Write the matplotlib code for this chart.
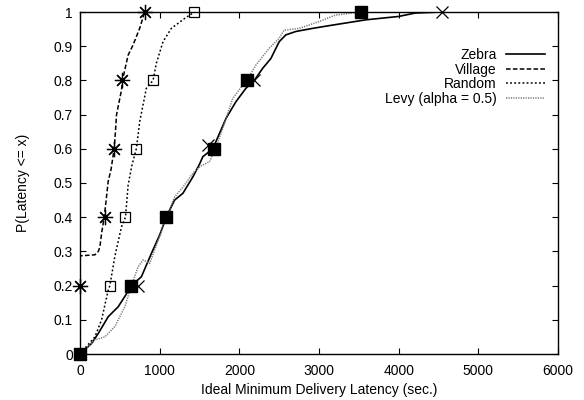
import matplotlib
matplotlib.use("Agg")
from matplotlib import pyplot as plt

plt.rcParams["font.family"] = ["Liberation Sans", "DejaVu Sans"]
plt.rcParams["font.size"] = 10

# CDF curves (x in sec., y = P(latency <= x))

zebra_x = [0, 146, 229, 354, 479, 562, 646, 771, 896, 1000, 1083, 1187, 1292, 1417,
           1500, 1542, 1667, 1833, 1958, 2083, 2187, 2292, 2396, 2500, 2583, 2708,
           2917, 3125, 3583, 4000, 4208, 4542, 5000]
zebra_y = [0, 0.031, 0.06, 0.109, 0.138, 0.168, 0.2, 0.226, 0.294, 0.348, 0.4, 0.45,
           0.47, 0.518, 0.555, 0.577, 0.6, 0.689, 0.738, 0.777, 0.8, 0.835, 0.864,
           0.913, 0.933, 0.943, 0.952, 0.96, 0.977, 0.987, 0.997, 1.0, 1.0]

village_x = [0, 0, 187, 230, 250, 271, 304, 333, 354, 390, 429, 445, 458, 521, 533,
             604, 667, 750, 812]
village_y = [0, 0.287, 0.29, 0.30, 0.314, 0.353, 0.40, 0.46, 0.505, 0.54, 0.601, 0.65,
             0.699, 0.772, 0.80, 0.874, 0.904, 0.953, 1.0]

random_x = [0, 62, 187, 271, 354, 375, 437, 521, 571, 604, 650, 708, 750, 833, 917,
            958, 1042, 1146, 1312, 1437]
random_y = [0, 0.017, 0.05, 0.1, 0.187, 0.2, 0.285, 0.372, 0.4, 0.494, 0.55, 0.601,
            0.68, 0.777, 0.8, 0.85, 0.913, 0.952, 0.981, 1.0]

levy_x = [0, 187, 312, 437, 562, 646, 729, 792, 875, 930, 1010, 1083, 1190, 1300,
          1420, 1520, 1625, 1700, 1792, 1917, 2042, 2096, 2208, 2375, 2500, 2562,
          2750, 3000, 3208, 3521]
levy_y = [0, 0.041, 0.05, 0.08, 0.138, 0.2, 0.255, 0.275, 0.265, 0.30, 0.35, 0.4,
          0.46, 0.49, 0.53, 0.55, 0.562, 0.6, 0.66, 0.747, 0.786, 0.8, 0.845, 0.894,
          0.923, 0.947, 0.952, 0.972, 0.991, 1.0]

# marker points (every 0.2 of probability)
zebra_mx = [0, 729, 1083, 1604, 2187, 4542]
zebra_my = [0, 0.2, 0.4, 0.611, 0.8, 1.0]
village_mx = [0, 312, 429, 533, 812]
village_my = [0.2, 0.4, 0.6, 0.8, 1.0]
random_mx = [0, 375, 571, 708, 917, 1437]
random_my = [0, 0.2, 0.4, 0.6, 0.8, 1.0]
levy_mx = [0, 646, 1083, 1687, 2096, 3521]
levy_my = [0, 0.2, 0.4, 0.6, 0.8, 1.0]

fig = plt.figure(figsize=(5.84, 4.0), dpi=100)
ax = fig.add_axes([80 / 584, 1 - 354 / 400, 478 / 584, 342 / 400])

ax.plot(zebra_x, zebra_y, color="black", lw=1.2, ls="-", label="Zebra")
ax.plot(village_x, village_y, color="black", lw=1.1, ls=(0, (3, 1.5)), label="Village")
ax.plot(random_x, random_y, color="black", lw=1.1, ls=(0, (1.2, 1.5)), label="Random")
ax.plot(levy_x, levy_y, color="#777777", lw=1.1, ls=(0, (0.8, 0.8)),
        label="Levy (alpha = 0.5)")

ax.plot(zebra_mx, zebra_my, ls="none", marker="x", ms=9, mew=0.9, color="black",
        clip_on=False)
ax.plot(village_mx, village_my, ls="none", marker=(8, 2, 0), ms=11, mew=0.9,
        color="black", clip_on=False)
ax.plot(random_mx, random_my, ls="none", marker="s", ms=7.5, mew=0.9, mfc="none",
        color="black", clip_on=False)
ax.plot(levy_mx, levy_my, ls="none", marker="s", ms=8.5, color="black", clip_on=False)

ax.set_xlim(0, 6000)
ax.set_ylim(0, 1)
ax.set_xticks(range(0, 6001, 1000))
ax.set_yticks([i / 10 for i in range(11)])
ax.set_yticklabels(["0", "0.1", "0.2", "0.3", "0.4", "0.5", "0.6", "0.7", "0.8",
                    "0.9", "1"])
ax.tick_params(direction="in", top=True, right=True, length=4, width=0.8, pad=5)
ax.tick_params(axis="x", pad=7)
for s in ax.spines.values():
    s.set_linewidth(1.0)

ax.set_xlabel("Ideal Minimum Delivery Latency (sec.)", labelpad=4)
ax.set_ylabel("P(Latency <= x)", labelpad=17)

leg = ax.legend(loc="upper right", bbox_to_anchor=(0.985, 0.91), frameon=False,
                markerfirst=False, handlelength=2.8, handletextpad=0.7,
                labelspacing=0.03, borderaxespad=0)
for t in leg.get_texts():
    t.set_ha("right")

fig.savefig("out.png", dpi=100)
